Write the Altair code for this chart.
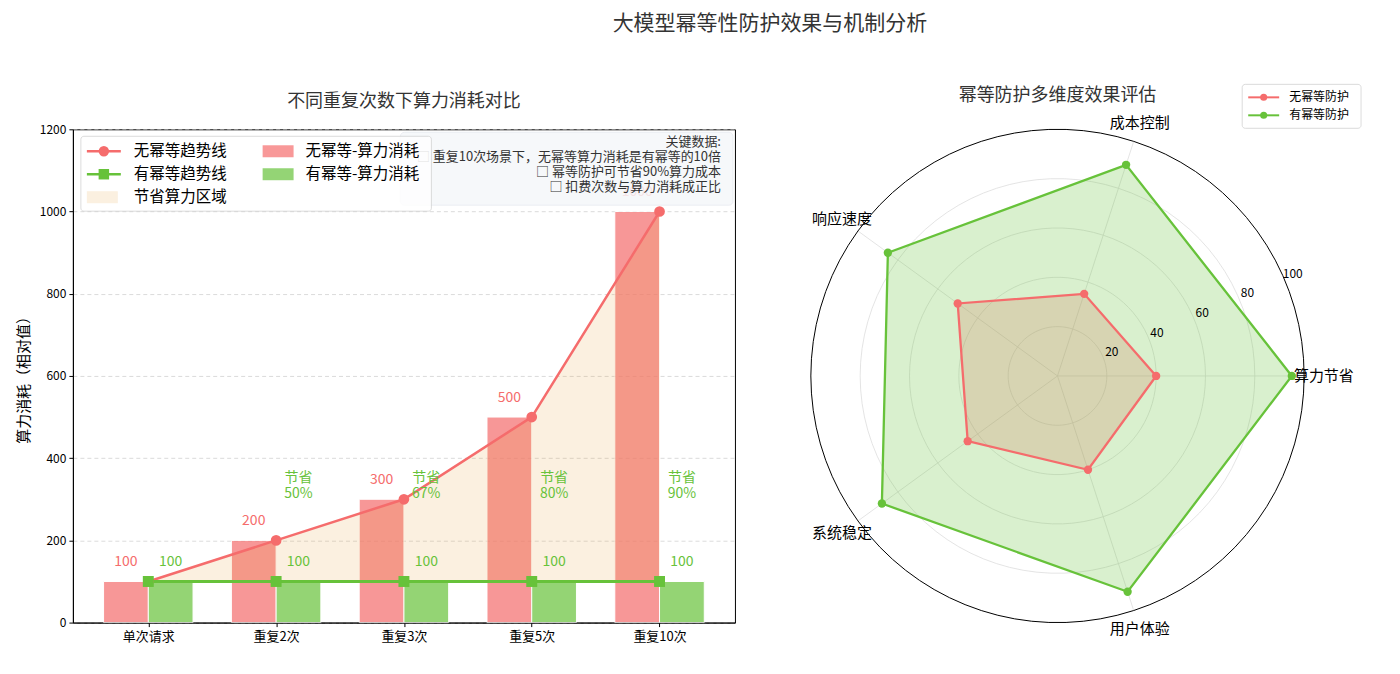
import altair as alt
import pandas as pd

# ---------------- data ----------------
categories = ["单次请求", "重复2次", "重复3次", "重复5次", "重复10次"]
no_idem_cost = [100, 200, 300, 500, 1000]
idem_cost = [100, 100, 100, 100, 100]
y_ticks = [0, 200, 400, 600, 800, 1000, 1200]

key_notes = [
    "关键数据:",
    "□ 重复10次场景下，无幂等算力消耗是有幂等的10倍",
    "□ 幂等防护可节省90%算力成本",
    "□ 扣费次数与算力消耗成正比",
]

radar_dims = ["算力节省", "成本控制", "响应速度", "系统稳定", "用户体验"]
radar_no = [40, 35, 50, 45, 40]
radar_with = [95, 90, 85, 88, 92]
radar_rticks = [20, 40, 60, 80, 100]
series_names = ["无幂等防护", "有幂等防护"]

main_title = "大模型幂等性防护效果与机制分析"
left_title = "不同重复次数下算力消耗对比"
right_title = "幂等防护多维度效果评估"

# ---------------- style ----------------
RED, GREEN, ORANGE = "#F56C6C", "#67C23A", "#E6A23C"
FONT = "Noto Sans CJK SC"
W, H = 663, 494
RW = 494
one = pd.DataFrame({"k": [0]})

# ---------------- left chart ----------------
bars_df = pd.DataFrame({
    "idx": list(range(len(categories))),
    "cat": categories,
    "no": no_idem_cost,
    "yes": idem_cost,
})

xscale = alt.Scale(domain=[-0.59, len(categories) - 1 + 0.59], nice=False, zero=False)
yscale = alt.Scale(domain=[0, 1200], nice=False)
label_expr = "[" + ",".join(f"'{c}'" for c in categories) + "][datum.value]"

x_axis = alt.Axis(values=list(range(len(categories))), labelExpr=label_expr, grid=False,
                  title=None, labelFontSize=13, labelColor="#000", tickColor="#000",
                  domainColor="#000", tickSize=4, labelPadding=4)
y_axis = alt.Axis(values=y_ticks, format="d", grid=True, gridDash=[4, 3], gridColor="#cccccc",
                  gridOpacity=0.7, title="算力消耗（相对值）", titleFontSize=15,
                  titleFontWeight="normal", titleColor="#000", titlePadding=8,
                  labelFontSize=12, labelColor="#000", tickColor="#000",
                  domainColor="#000", tickSize=4, labelPadding=3)


def X(f):
    return alt.X(f, scale=xscale, axis=x_axis)


def Y(f):
    return alt.Y(f, scale=yscale, axis=y_axis)


base = alt.Chart(bars_df)

red_bars = base.transform_calculate(x0="datum.idx - 0.35").mark_rect(
    color=RED, opacity=0.7, stroke="white", strokeWidth=1
).encode(x=X("x0:Q"), x2="idx:Q", y=Y("no:Q"), y2=alt.datum(0))

green_bars = base.transform_calculate(x1="datum.idx + 0.35").mark_rect(
    color=GREEN, opacity=0.7, stroke="white", strokeWidth=1
).encode(x=X("idx:Q"), x2="x1:Q", y=Y("yes:Q"), y2=alt.datum(0))

area = base.mark_area(color=ORANGE, opacity=0.16).encode(
    x=X("idx:Q"), y=Y("no:Q"), y2="yes:Q")

red_line = base.mark_line(color=RED, strokeWidth=2.5).encode(x=X("idx:Q"), y=Y("no:Q"))
red_pts = base.mark_point(shape="circle", filled=True, size=115, color=RED, opacity=1).encode(
    x=X("idx:Q"), y=Y("no:Q"))
green_line = base.mark_line(color=GREEN, strokeWidth=3).encode(x=X("idx:Q"), y=Y("yes:Q"))
green_pts = base.mark_point(shape="square", filled=True, size=120, color=GREEN, opacity=1).encode(
    x=X("idx:Q"), y=Y("yes:Q"))

red_lbl = base.transform_calculate(lx="datum.idx - 0.175", ly="datum.no + 30").mark_text(
    color=RED, fontSize=14, baseline="bottom"
).encode(x=X("lx:Q"), y=Y("ly:Q"), text="no:Q")

green_lbl = base.transform_calculate(lx="datum.idx + 0.175", ly="datum.yes + 30").mark_text(
    color=GREEN, fontSize=14, baseline="bottom"
).encode(x=X("lx:Q"), y=Y("ly:Q"), text="yes:Q")

save_lbl = base.transform_filter("datum.no > datum.yes").transform_calculate(
    lx="datum.idx + 0.175",
    txt="'节省\\n' + round((1 - datum.yes / datum.no) * 100) + '%'",
).mark_text(color=GREEN, fontSize=14, lineBreak="\n", lineHeight=16, baseline="middle").encode(
    x=X("lx:Q"), y=alt.datum(352), text="txt:N")

note_box = alt.Chart(one).mark_rect(
    fill="#F5F7FA", opacity=0.85, cornerRadius=4, stroke="#E4E7ED", strokeWidth=0.8
).encode(x=alt.value(328), x2=alt.value(661), y=alt.value(3), y2=alt.value(76))

note_text = alt.Chart(pd.DataFrame({"t": ["\n".join(key_notes)]})).mark_text(
    align="right", baseline="top", fontSize=13, color="#333", lineBreak="\n", lineHeight=15
).encode(x=alt.value(649), y=alt.value(7), text="t:N")

# legend (left)
leg_layers = [
    alt.Chart(one).mark_rect(fill="white", opacity=0.85, cornerRadius=3, stroke="#cccccc",
                             strokeWidth=0.8).encode(
        x=alt.value(8), x2=alt.value(359), y=alt.value(7), y2=alt.value(82))
]
rows_y = [22, 45, 68]
left_items = [
    ("无幂等趋势线", "line", RED, "circle", 0, 0),
    ("有幂等趋势线", "line", GREEN, "square", 0, 1),
    ("节省算力区域", "patch", ORANGE, 0.16, 0, 2),
    ("无幂等-算力消耗", "patch", RED, 0.7, 1, 0),
    ("有幂等-算力消耗", "patch", GREEN, 0.7, 1, 1),
]
for label, kind, col, extra, c, r in left_items:
    yy = rows_y[r]
    sx = 14 if c == 0 else 190
    tx = 61 if c == 0 else 233
    if kind == "line":
        leg_layers.append(alt.Chart(one).mark_rule(color=col, strokeWidth=2.5).encode(
            x=alt.value(sx), x2=alt.value(sx + 34), y=alt.value(yy)))
        leg_layers.append(alt.Chart(one).mark_point(shape=extra, filled=True, size=110,
                                                    color=col, opacity=1).encode(
            x=alt.value(sx + 17), y=alt.value(yy)))
    else:
        leg_layers.append(alt.Chart(one).mark_rect(color=col, opacity=extra).encode(
            x=alt.value(sx), x2=alt.value(sx + 31), y=alt.value(yy - 6), y2=alt.value(yy + 6)))
    leg_layers.append(alt.Chart(one).mark_text(align="left", baseline="middle", fontSize=15.5,
                                               color="#000").encode(
        x=alt.value(tx), y=alt.value(yy), text=alt.value(label)))

titles_left = [
    alt.Chart(one).mark_text(fontSize=21, color="#333", baseline="middle").encode(
        x=alt.value(698), y=alt.value(-105), text=alt.value(main_title)),
    alt.Chart(one).mark_text(fontSize=18, color="#333", baseline="middle").encode(
        x=alt.value(W / 2), y=alt.value(-27), text=alt.value(left_title)),
]

anchors = [
    alt.Chart(one).mark_rule(strokeOpacity=0, strokeWidth=0.1).encode(
        x=alt.value(-72), x2=alt.value(-71), y=alt.value(-128), y2=alt.value(-127)),
    alt.Chart(one).mark_rule(strokeOpacity=0, strokeWidth=0.1).encode(
        x=alt.value(1327), x2=alt.value(1328), y=alt.value(545), y2=alt.value(546)),
]

left = alt.layer(
    red_bars, green_bars, area, red_line, green_line, red_pts, green_pts,
    red_lbl, green_lbl, save_lbl, note_box, note_text, *leg_layers, *titles_left, *anchors
).properties(width=W, height=H, view=alt.ViewBackground(stroke="black", strokeWidth=1))

# ---------------- right chart (radar) ----------------
RS = alt.Scale(domain=[-100, 100], nice=False, zero=False)


def RX(f):
    return alt.X(f, scale=RS, axis=None)


def RY(f):
    return alt.Y(f, scale=RS, axis=None)


n_seg = 90
ring_arr = "[" + ",".join(str(t) for t in radar_rticks) + "]"
rings = alt.Chart(alt.sequence(0, len(radar_rticks) * (n_seg + 1), as_="i")).transform_calculate(
    ring=f"{ring_arr}[floor(datum.i / {n_seg + 1})]",
    deg=f"(datum.i % {n_seg + 1}) * {360 / n_seg}",
).transform_calculate(
    rx="datum.ring * cos(datum.deg * PI / 180)",
    ry="datum.ring * sin(datum.deg * PI / 180)",
)
rmax = max(radar_rticks)
grey_rings = rings.transform_filter(f"datum.ring < {rmax}").mark_line(
    color="#dddddd", strokeWidth=0.8).encode(
    x=RX("rx:Q"), y=RY("ry:Q"), detail="ring:Q", order="deg:Q")
outer_ring = rings.transform_filter(f"datum.ring == {rmax}").mark_line(
    color="black", strokeWidth=1).encode(x=RX("rx:Q"), y=RY("ry:Q"), order="deg:Q")

dims_df = pd.DataFrame({"dim": radar_dims, "k": list(range(len(radar_dims)))})
n_dim = len(radar_dims)
spokes = alt.Chart(dims_df).transform_calculate(
    ang=f"datum.k * 2 * PI / {n_dim}",
    z="0",
).transform_calculate(
    sx=f"{rmax} * cos(datum.ang)", sy=f"{rmax} * sin(datum.ang)"
).mark_rule(color="#dddddd", strokeWidth=0.8).encode(
    x=RX("z:Q"), y=RY("z:Q"), x2="sx:Q", y2="sy:Q")

dim_lbls = alt.Chart(dims_df).transform_calculate(
    ang=f"datum.k * 2 * PI / {n_dim}"
).transform_calculate(
    lx="108 * cos(datum.ang)", ly="108 * sin(datum.ang)"
).mark_text(fontSize=15, color="#000", baseline="middle").encode(
    x=RX("lx:Q"), y=RY("ly:Q"), text="dim:N")

rt_df = pd.DataFrame({"t": radar_rticks})
r_lbls = alt.Chart(rt_df).transform_calculate(
    lx="(datum.t + 4) * cos(23.5 * PI / 180)", ly="(datum.t + 4) * sin(23.5 * PI / 180)"
).mark_text(fontSize=12, color="#000", baseline="middle").encode(
    x=RX("lx:Q"), y=RY("ly:Q"), text="t:Q")

poly_df = pd.DataFrame({
    "s": [series_names[0]] * n_dim + [series_names[1]] * n_dim,
    "k": list(range(n_dim)) * 2,
    "v": radar_no + radar_with,
})
poly = alt.Chart(poly_df).transform_calculate(
    ang=f"datum.k * 2 * PI / {n_dim}"
).transform_calculate(
    px="datum.v * cos(datum.ang)", py="datum.v * sin(datum.ang)"
)


def sel(name):
    return poly.transform_filter(alt.datum.s == name)


radar_layers = []
for name, col in zip(series_names, [RED, GREEN]):
    radar_layers.append(sel(name).mark_line(
        interpolate="linear-closed", fill=col, fillOpacity=0.25, strokeOpacity=0, strokeWidth=0
    ).encode(x=RX("px:Q"), y=RY("py:Q"), order="k:Q"))
for name, col in zip(series_names, [RED, GREEN]):
    radar_layers.append(sel(name).mark_line(
        interpolate="linear-closed", color=col, strokeWidth=2.3
    ).encode(x=RX("px:Q"), y=RY("py:Q"), order="k:Q"))
    radar_layers.append(sel(name).mark_point(
        shape="circle", filled=True, size=70, color=col, opacity=1
    ).encode(x=RX("px:Q"), y=RY("py:Q")))

# legend (right)
rleg = [alt.Chart(one).mark_rect(fill="white", opacity=0.85, cornerRadius=3, stroke="#cccccc",
                                 strokeWidth=0.8).encode(
    x=alt.value(432), x2=alt.value(551), y=alt.value(-45), y2=alt.value(-1))]
for i, (name, col) in enumerate(zip(series_names, [RED, GREEN])):
    yy = -32 + 18 * i
    rleg.append(alt.Chart(one).mark_rule(color=col, strokeWidth=2).encode(
        x=alt.value(438), x2=alt.value(469), y=alt.value(yy)))
    rleg.append(alt.Chart(one).mark_point(shape="circle", filled=True, size=50, color=col,
                                          opacity=1).encode(x=alt.value(453.5), y=alt.value(yy)))
    rleg.append(alt.Chart(one).mark_text(align="left", baseline="middle", fontSize=12,
                                         color="#000").encode(
        x=alt.value(479), y=alt.value(yy), text=alt.value(name)))

rtitle = alt.Chart(one).mark_text(fontSize=18, color="#333", baseline="middle").encode(
    x=alt.value(RW / 2), y=alt.value(-33), text=alt.value(right_title))

right = alt.layer(
    grey_rings, spokes, *radar_layers, outer_ring, r_lbls, dim_lbls, *rleg, rtitle
).properties(width=RW, height=RW, view=alt.ViewBackground(stroke="transparent", strokeWidth=0))

chart = alt.hconcat(left, right, spacing=76, bounds="flush").properties(
    padding=0
).configure_view(strokeOpacity=0).configure(font=FONT)

chart.save("out.html", embed_options={"renderer": "svg", "actions": False})
